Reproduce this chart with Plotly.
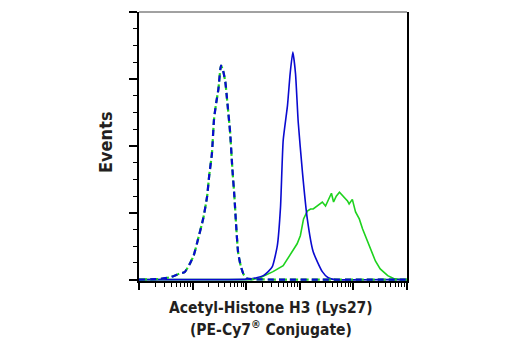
import numpy as np
import plotly.graph_objects as go

# Fluorescence intensity (log10 decades) and event counts (% of axis max)
ctrl_log = [0.0, 0.4, 0.6, 0.75, 0.85, 0.95, 1.02, 1.1, 1.2, 1.27, 1.31, 1.36, 1.40, 1.44,
            1.48, 1.53, 1.57, 1.61, 1.64, 1.70, 1.74, 1.78, 1.81, 1.85, 1.90, 1.95, 2.0,
            2.1, 3.0, 4.0, 5.0]
ctrl_events = [0.0, 0.3, 1.0, 2.2, 2.8, 6, 9, 15, 23, 31, 39, 47, 60, 66,
               71, 80, 78, 74, 68, 55, 42, 31, 21, 10, 5, 2, 0.6,
               0.2, 0, 0, 0]

blue_log = [0.0, 1.0, 2.07, 2.21, 2.32, 2.41, 2.49, 2.58, 2.64, 2.69, 2.77, 2.82, 2.87,
            2.92, 2.97, 3.05, 3.14, 3.25, 3.42, 3.53, 3.66, 4.5, 5.0]
blue_events = [0, 0, 0.2, 0.8, 1.5, 3, 5, 12.6, 27, 52, 65, 77, 85,
               77, 59, 40, 22.7, 10.4, 3, 0.7, 0, 0, 0]

green_log = [0.0, 1.0, 2.1, 2.26, 2.50, 2.69, 2.86, 2.95, 3.01, 3.07, 3.14, 3.20, 3.25,
             3.33, 3.42, 3.48, 3.53, 3.59, 3.63, 3.68, 3.74, 3.81, 3.89, 3.92, 3.98,
             4.04, 4.11, 4.17, 4.22, 4.32, 4.41, 4.50, 4.64, 4.75, 4.88, 5.0]
green_events = [0, 0, 0, 0.7, 3, 5.2, 10.4, 13.4, 16.4, 22.7, 25.6, 26.4, 26.4,
                27.5, 29, 27.5, 30, 32.3, 29, 31.2, 32.7, 31.2, 29.4, 28.3, 30,
                25.3, 22.7, 19, 16.4, 11.5, 7, 4, 1.5, 0.4, 0, 0]

BLUE = "#0a0ad0"
GREEN = "#1ed21e"
INK = "#231f20"
FONT = "Liberation Sans Narrow, DejaVu Sans Condensed, Arial Narrow, sans-serif"

fig = go.Figure()

fig.add_trace(go.Scatter(x=np.power(10.0, green_log), y=green_events, mode="lines",
                         line=dict(color=GREEN, width=1.6), hoverinfo="skip"))
fig.add_trace(go.Scatter(x=np.power(10.0, blue_log), y=blue_events, mode="lines",
                         line=dict(color=BLUE, width=1.6, shape="spline", smoothing=0.5),
                         hoverinfo="skip"))
fig.add_trace(go.Scatter(x=np.power(10.0, ctrl_log), y=ctrl_events, mode="lines",
                         line=dict(color=GREEN, width=2.2, dash="8px,3px",
                                   shape="spline", smoothing=0.5), hoverinfo="skip"))
fig.add_trace(go.Scatter(x=np.power(10.0, ctrl_log), y=ctrl_events, mode="lines",
                         line=dict(color=BLUE, width=2.2, dash="6px,5px",
                                   shape="spline", smoothing=0.5), hoverinfo="skip"))

fig.update_layout(
    width=520, height=350,
    margin=dict(l=139, r=113, t=12, b=69),
    paper_bgcolor="white", plot_bgcolor="white",
    showlegend=False,
    xaxis=dict(type="log", range=[0, 5], showgrid=False, zeroline=False,
               showline=True, linecolor="black", linewidth=2, layer="below traces",
               ticks="outside", ticklen=7, tickwidth=1.5, tickcolor="black",
               dtick=1, showticklabels=False,
               minor=dict(ticks="outside", ticklen=4, tickwidth=1, tickcolor="black",
                          dtick="D1", showgrid=False)),
    yaxis=dict(range=[-0.5, 100], showgrid=False, zeroline=False,
               showline=True, linecolor="black", linewidth=2, mirror=True,
               layer="below traces",
               ticks="outside", ticklen=8, tickwidth=1.5, tickcolor="black",
               tick0=0, dtick=25, showticklabels=False,
               minor=dict(ticks="outside", ticklen=4, tickwidth=1, tickcolor="black",
                          dtick=6.25, showgrid=False)),
    shapes=[dict(type="line", xref="paper", yref="paper", x0=0, x1=1, y0=1, y1=1,
                 line=dict(color="#444", width=1))],
    annotations=[
        dict(text="<b>Events</b>", textangle=-90, xref="paper", yref="paper",
             x=(105 - 139) / 268, y=(281 - 142) / 269, showarrow=False,
             xanchor="center", yanchor="middle",
             font=dict(family=FONT, size=18, color=INK)),
        dict(text="<b>Acetyl-Histone H3 (Lys27)</b>", xref="paper", yref="paper",
             x=(271 - 139) / 268, y=(281 - 308) / 269, showarrow=False,
             xanchor="center", yanchor="middle",
             font=dict(family=FONT, size=15.5, color=INK)),
        dict(text="<b>(PE-Cy7<sup>®</sup> Conjugate)</b>", xref="paper", yref="paper",
             x=(271 - 139) / 268, y=(281 - 328) / 269, showarrow=False,
             xanchor="center", yanchor="middle",
             font=dict(family=FONT, size=15.5, color=INK)),
    ],
)

fig.write_html("out.html")
